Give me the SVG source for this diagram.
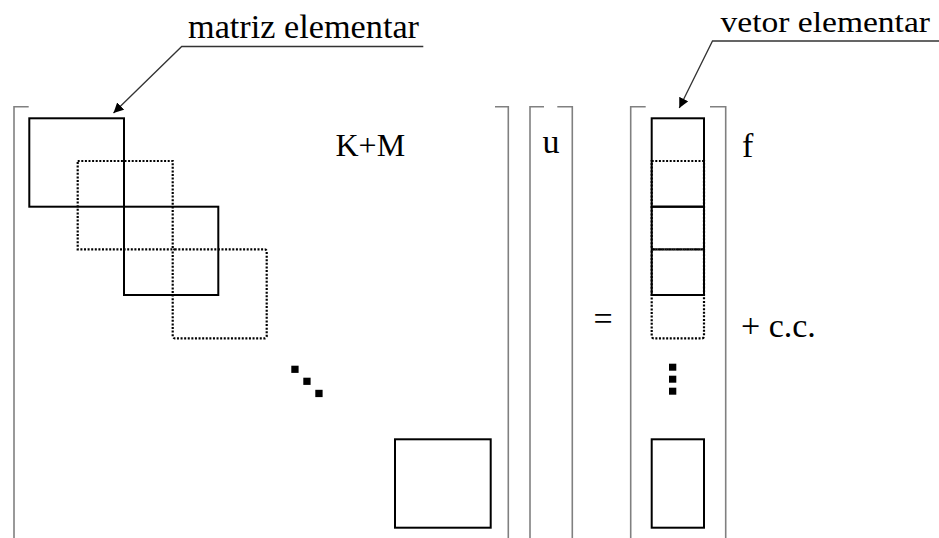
<svg xmlns="http://www.w3.org/2000/svg" width="939" height="538" viewBox="0 0 939 538">
<style>
  .br { fill: none; stroke: #808080; stroke-width: 1.6; }
  .solid { fill: none; stroke: #000; stroke-width: 2; }
  .dot { fill: none; stroke: #000; stroke-width: 2.2; stroke-dasharray: 2 1.6; }
  .lead { fill: none; stroke: #333; stroke-width: 1.3; }
  .pt { fill: #000; }
</style>
<defs>
  <marker id="ah" viewBox="0 0 10 10" refX="10" refY="5" markerWidth="10" markerHeight="10" markerUnits="userSpaceOnUse" orient="auto">
    <path d="M0,0 L10,5 L0,10 z" fill="#000"/>
  </marker>
</defs>
<rect width="939" height="538" fill="#fff"/>

<!-- brackets -->
<g id="brackets">
  <path class="br" d="M28.7,106.7 H14 V538"/>
  <path class="br" d="M495,106.7 H508.3 V538"/>
  <path class="br" d="M544,106.7 H530 V538"/>
  <path class="br" d="M557.3,106.7 H572.3 V538"/>
  <path class="br" d="M645.7,106.7 H630.7 V538"/>
  <path class="br" d="M710,106.7 H725.7 V538"/>
</g>

<!-- matrix elements -->
<g id="matrix">
  <rect class="dot" x="77.7" y="161" width="95" height="88.3"/>
  <rect class="dot" x="172.7" y="249.3" width="94" height="89" rx="2"/>
  <rect class="solid" x="29.3" y="118.3" width="94.7" height="88.4"/>
  <rect class="solid" x="124" y="206.7" width="94.3" height="88.3"/>
  <rect class="solid" x="395" y="439.3" width="95.7" height="88.4"/>
  <rect class="pt" x="291.3" y="365.7" width="7.3" height="7.2"/>
  <rect class="pt" x="303.3" y="377.7" width="7.3" height="7.2"/>
  <rect class="pt" x="315.3" y="389.8" width="7.3" height="7.3"/>
</g>

<!-- vector elements -->
<g id="vector">
  <rect class="dot" x="651.7" y="161" width="52.3" height="88.3"/>
  <rect class="dot" x="651.7" y="249.3" width="52.3" height="89" rx="2"/>
  <rect class="solid" x="651.7" y="118.3" width="52.3" height="88.4"/>
  <rect class="solid" x="651.7" y="206.7" width="52.3" height="88.3"/>
  <rect class="solid" x="651.7" y="439.3" width="52.3" height="88.4"/>
  <rect class="pt" x="669" y="363.7" width="7.3" height="7"/>
  <rect class="pt" x="669" y="375.7" width="7.3" height="7"/>
  <rect class="pt" x="669" y="387.7" width="7.3" height="7"/>
</g>

<!-- labels -->
<g id="labels" font-family="Liberation Serif, DejaVu Serif, serif" fill="#000">
  <text x="335.5" y="155.7" font-size="32">K+M</text>
  <text x="542.5" y="152.5" font-size="34">u</text>
  <text x="742" y="156.7" font-size="34">f</text>
  <text x="593.5" y="330" font-size="34">=</text>
  <text x="741" y="336.7" font-size="34">+ c.c.</text>
</g>

<g id="callout-matriz" font-family="Liberation Serif, DejaVu Serif, serif" fill="#000">
  <text x="188" y="38.3" font-size="34" textLength="231" lengthAdjust="spacingAndGlyphs">matriz elementar</text>
</g>
<g id="callout-vetor" font-family="Liberation Serif, DejaVu Serif, serif" fill="#000">
  <text x="720.5" y="31.7" font-size="30" textLength="209.5" lengthAdjust="spacingAndGlyphs">vetor elementar</text>
</g>

<!-- connectors -->
<g id="connectors">
  <path class="lead" d="M423.3,46.5 H181.7 L113.5,113" marker-end="url(#ah)"/>
  <path class="lead" d="M939,41 H712.5 L679.3,108" marker-end="url(#ah)"/>
</g>
</svg>
